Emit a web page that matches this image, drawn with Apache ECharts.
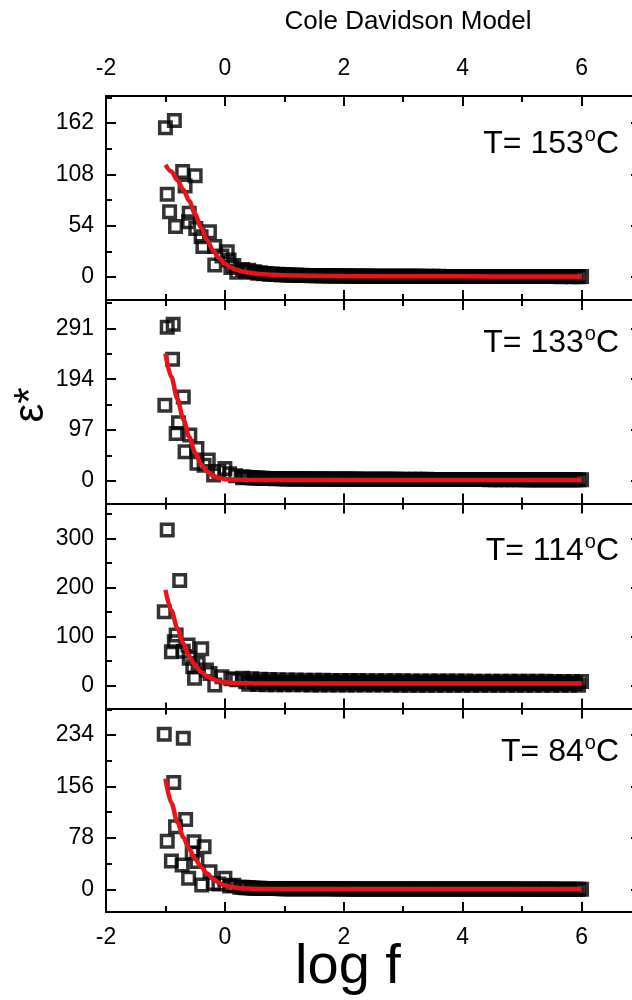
<!DOCTYPE html>
<html><head><meta charset="utf-8">
<script src="https://cdn.jsdelivr.net/npm/echarts@6/dist/echarts.min.js"></script>
<style>html,body{margin:0;padding:0;background:#fff}#c{width:632px;height:1000px}</style>
</head><body><div id="c"></div><script>
const FONT = "'Liberation Sans', Arial, Helvetica, sans-serif";

// ---------- data ----------
const titleText = 'Cole Davidson Model';
const xTitle = 'log f';
const yTitle = 'ε*';
const temps = ['153', '133', '114', '84'];

const xMin = -2, xMax = 7, xStep = 2, xMinorStep = 1;

// y ranges / ticks per panel
const yMin = [-24.2, -42.9, -46.4, -34.4];
const yMax = [190.4, 345, 370.9, 274.2];
const yMajor1 = [0, 54, 108, 162];
const yMinor1 = [27, 81, 135, 189];
const yMajor2 = [0, 97, 194, 291];
const yMinor2 = [48.5, 145.5, 242.5, 339.5];
const yMajor3 = [0, 100, 200, 300];
const yMinor3 = [50, 150, 250, 350];
const yMajor4 = [0, 78, 156, 234];
const yMinor4 = [39, 117, 195, 273];

// low-frequency scattered points
const low1X = [-1.00,-0.85,-0.97,-0.71,-0.50,-0.67,-0.93,-0.83,-0.60,-0.61,-0.49,-0.26,-0.40,-0.37,-0.17,-0.17,0.04,0.07,0.10,0.20,-0.05,0.15];
const low1Y = [157,164.5,87,111,106.6,95.8,68.7,53,67,58,51,47.7,42.4,32,32,12.6,26.6,18,10,5,22,12];
const low2X = [-0.97,-0.87,-0.88,-1.01,-0.70,-0.78,-0.82,-0.59,-0.67,-0.47,-0.47,-0.28,-0.19,0.00,0.08,0.30,-0.35,-0.10,0.18];
const low2Y = [293,298.6,232,144.5,160,111,90.7,87.5,55.7,62,33.7,40,11.4,24,14,6,30,18,10];
const low3X = [-0.97,-0.76,-1.02,-0.82,-0.90,-0.85,-0.62,-0.39,-0.60,-0.54,-0.51,-0.31,-0.17,-0.70,-0.45,-0.25,-0.05,0.10,0.20];
const low3Y = [317,214,150.7,103,69,89.6,83,75,55.7,38.7,15,32,1.4,70,45,25,18,14,12];
const low4X = [-1.02,-0.70,-0.86,-0.66,-0.83,-0.97,-0.52,-0.35,-0.90,-0.72,-0.47,-0.61,-0.39,-0.25,-0.19,0.00,0.08,-0.55,-0.10,0.15,0.25];
const low4Y = [235,229,162,106,95,73,72,64.6,43,37,42,16.7,6.5,26.7,9,16.7,5,55,8,6,3];

// high-frequency tail (shared log f)
const tailX = [0.30,0.35,0.40,0.45,0.50,0.55,0.60,0.65,0.70,0.75,
0.80,0.85,0.90,0.95,1.00,1.05,1.10,1.15,1.20,1.25,
1.30,1.35,1.40,1.45,1.50,1.55,1.60,1.65,1.70,1.75,
1.80,1.85,1.90,1.95,2.00,2.05,2.10,2.15,2.20,2.25,
2.30,2.35,2.40,2.45,2.50,2.55,2.60,2.65,2.70,2.75,
2.80,2.85,2.90,2.95,3.00,3.05,3.10,3.15,3.20,3.25,
3.30,3.35,3.40,3.45,3.50,3.55,3.60,3.65,3.70,3.75,
3.80,3.85,3.90,3.95,4.00,4.05,4.10,4.15,4.20,4.25,
4.30,4.35,4.40,4.45,4.50,4.55,4.60,4.65,4.70,4.75,
4.80,4.85,4.90,4.95,5.00,5.05,5.10,5.15,5.20,5.25,
5.30,5.35,5.40,5.45,5.50,5.55,5.60,5.65,5.70,5.75,
5.80,5.85,5.90,5.95,6.00];
const tail1Y = [8,6,7,5,5.5,4,4.5,3.5,3.8,3,
3.2,2.6,2.8,2.2,2.5,2,2.2,1.8,2,1.6,
1.8,1.5,1.7,1.4,1.5,1.3,1.4,1.2,1.3,1.1,
1.2,1.1,1.2,1,1.1,1,1.1,0.9,1,0.9,
1,0.9,1,0.8,0.9,0.8,0.9,0.8,0.9,0.8,
0.8,0.7,0.8,0.7,0.8,0.7,0.8,0.7,0.7,0.7,
0.7,0.6,0.7,0.6,0.7,0.6,0.7,0.6,0.6,0.6,
0.6,0.6,0.6,0.5,0.6,0.5,0.6,0.5,0.5,0.5,
0.5,0.5,0.6,0.5,0.5,0.5,0.5,0.4,0.5,0.5,
0.5,0.4,0.5,0.4,0.5,0.4,0.5,0.4,0.4,0.4,
0.4,0.4,0.5,0.4,0.4,0.4,0.4,0.3,0.4,0.4,
0.4,0.3,0.4,0.3,0.4];
const tail2Y = [8,7,6.5,6,5.5,5.5,5,5.2,4.8,4.6,
4.8,4.4,4.6,4.2,4.4,4,4.3,3.9,4.2,3.8,
4.1,3.8,4,3.7,4,3.6,3.9,3.6,3.8,3.5,
3.8,3.5,3.7,3.4,3.7,3.4,3.6,3.3,3.6,3.3,
3.5,3.3,3.5,3.2,3.4,3.2,3.4,3.1,3.3,3.1,
3.3,3.1,3.2,3,3.2,3,3.2,3,3.1,3,
3.1,2.9,3.1,2.9,3,2.9,3,2.8,3,2.8,
3,2.8,2.9,2.8,2.9,2.7,2.9,2.7,2.8,2.7,
2.8,2.7,2.8,2.6,2.8,2.6,2.7,2.6,2.7,2.6,
2.7,2.6,2.7,2.5,2.7,2.5,2.6,2.5,2.6,2.5,
2.6,2.5,2.6,2.4,2.6,2.4,2.5,2.4,2.5,2.4,
2.5,2.4,2.5,2.3,2.4];
const tail3Y = [15,8,3,14,7.5,2.5,13,7,2.2,12.5,
6.8,2,12,6.6,2,11.8,6.4,1.8,11.5,6.3,
1.7,11.3,6.2,1.6,11.1,6.1,1.5,11,6,1.5,
10.8,5.9,1.4,10.7,5.8,1.4,10.5,5.8,1.3,10.4,
5.7,1.3,10.3,5.7,1.2,10.2,5.6,1.2,10.1,5.6,
1.2,10,5.5,1.1,9.9,5.5,1.1,9.8,5.4,1.1,
9.7,5.4,1,9.6,5.3,1,9.6,5.3,1,9.5,
5.2,1,9.4,5.2,0.9,9.4,5.1,0.9,9.3,5.1,
0.9,9.2,5,0.9,9.2,5,0.8,9.1,5,0.8,
9.1,4.9,0.8,9,4.9,0.8,9,4.9,0.8,8.9,
4.8,0.7,8.9,4.8,0.7,8.8,4.8,0.7,8.8,4.7,
0.7,8.7,4.7,0.7,8.7];
const tail4Y = [3,2.5,2.2,2,1.8,1.6,1.5,1.4,1.3,1.2,
1.2,1.1,1.1,1,1,1,0.9,0.9,0.9,0.9,
0.8,0.9,0.8,0.8,0.8,0.7,0.8,0.7,0.7,0.7,
0.7,0.7,0.6,0.7,0.6,0.7,0.6,0.6,0.6,0.6,
0.6,0.6,0.5,0.6,0.5,0.6,0.5,0.5,0.5,0.5,
0.5,0.5,0.5,0.5,0.4,0.5,0.4,0.5,0.4,0.4,
0.4,0.4,0.4,0.4,0.4,0.4,0.4,0.4,0.4,0.3,
0.4,0.3,0.4,0.3,0.4,0.3,0.3,0.3,0.3,0.3,
0.3,0.3,0.3,0.3,0.3,0.3,0.3,0.3,0.3,0.3,
0.3,0.3,0.3,0.2,0.3,0.2,0.3,0.2,0.3,0.2,
0.3,0.2,0.3,0.2,0.3,0.2,0.2,0.2,0.2,0.2,
0.2,0.2,0.2,0.2,0.2];

// Cole-Davidson fit curves
const fitX = [-1.0,-0.9,-0.8,-0.7,-0.6,-0.5,-0.4,-0.3,-0.2,-0.1,0.0,0.1,0.2,0.3,0.4,0.5,0.6,0.8,1.0,1.5,2,3,4,5,6.0];
const fit1Y = [118,111,102,92,80,66,52,39,28,20,14,10,7.5,5.8,4.6,3.8,3.2,2.3,1.8,1.2,1.0,0.8,0.7,0.6,0.6];
const fit2Y = [243,198,157,118,84,54,32,18,10,6,4,3,2.5,2.2,2.1,2.0,2.0,2.0,2.0,2.0,2.0,2.0,2.0,2.0,2.0];
const fit3Y = [195,153,117,86,60,41,28,19,13,9,7,6,5.3,5,4.8,4.7,4.6,4.5,4.5,4.5,4.5,4.5,4.5,4.5,4.5];
const fit4Y = [168,131,102,79,61,46,34,24,16,10,6,3.8,2.4,1.6,1.1,0.8,0.6,0.5,0.4,0.4,0.4,0.4,0.4,0.4,0.4];

// ---------- layout ----------
const gridTop = [96, 300, 503.5, 708.5];
const gridH = [204, 203.5, 205, 203.5];
const gridLeft = 106, gridWidth = 535;
const tempLabelOffset = [29, 24, 29, 25];

const lows = [[low1X, low1Y], [low2X, low2Y], [low3X, low3Y], [low4X, low4Y]];
const tails = [tail1Y, tail2Y, tail3Y, tail4Y];
const fits = [fit1Y, fit2Y, fit3Y, fit4Y];
const majors = [yMajor1, yMajor2, yMajor3, yMajor4];
const minors = [yMinor1, yMinor2, yMinor3, yMinor4];

const BLACK = '#000';
const RED = '#e8141c';
const ls = () => ({ color: BLACK, width: 2 });
const labelSt = () => ({ color: BLACK, fontSize: 23, fontFamily: FONT });

const grids = [], xAxes = [], yAxes = [], series = [], graphics = [];
for (let i = 0; i < 4; i++) {
  grids.push({ left: gridLeft, top: gridTop[i], width: gridWidth, height: gridH[i], outerBoundsMode: 'none' });
  ['bottom', 'top'].forEach(pos => {
    const showLab = (pos === 'bottom' && i === 3) || (pos === 'top' && i === 0);
    xAxes.push({
      type: 'value', gridIndex: i, position: pos, min: xMin, max: xMax, interval: xStep,
      axisLine: { show: true, onZero: false, lineStyle: ls() },
      axisTick: { show: true, inside: true, length: 10, lineStyle: ls() },
      axisLabel: Object.assign({ show: showLab, margin: pos === 'top' ? 16 : 14, showMaxLabel: false }, labelSt()),
      splitLine: { show: false }
    });
    xAxes.push({
      type: 'value', gridIndex: i, position: pos, min: xMin, max: xMax, interval: xMinorStep,
      axisLine: { show: false, onZero: false },
      axisTick: { show: true, inside: true, length: 6, lineStyle: ls() },
      axisLabel: { show: false },
      splitLine: { show: false }
    });
  });
  yAxes.push({
    type: 'value', gridIndex: i, position: 'left', min: yMin[i], max: yMax[i],
    axisLine: { show: true, onZero: false, lineStyle: ls() },
    axisTick: { show: true, inside: true, length: 10, customValues: majors[i], lineStyle: ls() },
    axisLabel: Object.assign({ show: true, margin: 12, customValues: majors[i] }, labelSt()),
    splitLine: { show: false }
  });
  yAxes.push({
    type: 'value', gridIndex: i, position: 'left', min: yMin[i], max: yMax[i],
    axisLine: { show: false, onZero: false },
    axisTick: { show: true, inside: true, length: 6, customValues: minors[i], lineStyle: ls() },
    axisLabel: { show: false },
    splitLine: { show: false }
  });
  yAxes.push({
    type: 'value', gridIndex: i, position: 'right', min: yMin[i], max: yMax[i],
    axisLine: { show: true, onZero: false, lineStyle: ls() },
    axisTick: { show: true, inside: true, length: 10, customValues: majors[i], lineStyle: ls() },
    axisLabel: { show: false },
    splitLine: { show: false }
  });

  const sym = {
    type: 'scatter', xAxisIndex: 4 * i, yAxisIndex: 3 * i, symbol: 'rect', symbolSize: 11.5,
    itemStyle: { color: 'rgba(255,255,255,0)', borderColor: BLACK, borderWidth: 3.5 },
    emphasis: { disabled: true }, silent: true, z: 2
  };
  series.push(Object.assign({}, sym, { data: lows[i][0].map((x, j) => [x, lows[i][1][j]]) }));
  series.push(Object.assign({}, sym, { data: tailX.map((x, j) => [x, tails[i][j]]) }));
  series.push({
    type: 'line', xAxisIndex: 4 * i, yAxisIndex: 3 * i, smooth: 0.3, smoothMonotone: 'x',
    showSymbol: false, symbol: 'none', silent: true, z: 5,
    lineStyle: { color: RED, width: 4.5 },
    data: fitX.map((x, j) => [x, fits[i][j]])
  });

  graphics.push({
    type: 'text', right: 13, top: gridTop[i] + tempLabelOffset[i], silent: true,
    style: {
      text: '{a|T= ' + temps[i] + '}{s|o}{a|C}',
      rich: {
        a: { fontSize: 32, fontFamily: FONT, fill: BLACK, lineHeight: 35, verticalAlign: 'bottom' },
        s: { fontSize: 20, fontFamily: FONT, fill: BLACK, lineHeight: 35, verticalAlign: 'top', padding: [0, 0, 14, 1] }
      }
    }
  });
}

graphics.push({ type: 'text', x: 408, y: 22, silent: true,
  style: { text: titleText, fontSize: 26, fontFamily: FONT, fill: BLACK, align: 'center', verticalAlign: 'middle' } });
graphics.push({ type: 'text', x: 348, y: 968, silent: true,
  style: { text: xTitle, fontSize: 56, fontFamily: FONT, fill: BLACK, align: 'center', verticalAlign: 'middle' } });
graphics.push({ type: 'text', x: 31, y: 405, rotation: Math.PI / 2, silent: true,
  style: { text: yTitle, fontSize: 42, fontFamily: FONT, fill: BLACK, align: 'center', verticalAlign: 'middle' } });

const chart = echarts.init(document.getElementById('c'), null, { renderer: 'canvas' });
chart.setOption({
  animation: false,
  backgroundColor: '#fff',
  grid: grids, xAxis: xAxes, yAxis: yAxes, series: series, graphic: graphics
});
</script></body></html>
